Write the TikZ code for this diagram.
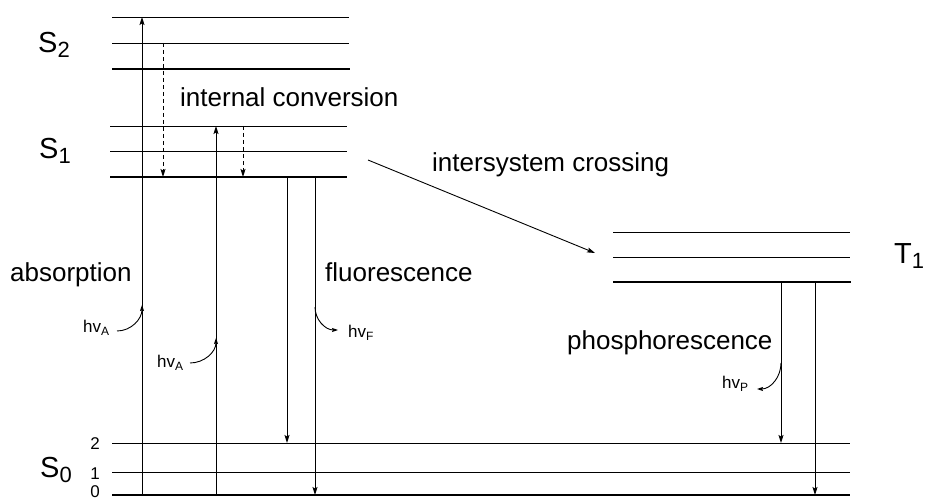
\documentclass[tikz,border=0pt]{standalone}
\usepackage{fontspec}
\setmainfont{Liberation Sans}
\usetikzlibrary{arrows.meta}
\begin{document}
\begin{tikzpicture}[x=1pt,y=-1pt,
  lvl/.style={line width=0.9pt},
  lvlthick/.style={line width=2.8pt},
  tr/.style={line width=0.9pt,-{Stealth[length=8pt,width=5pt,inset=1.5pt]}},
  nr/.style={tr,dash pattern=on 4pt off 3pt},
  hvarrow/.style={line width=0.9pt,-{Stealth[length=6pt,width=4pt,inset=1pt]}},
  lab/.style={font=\fontsize{26}{30}\selectfont, inner sep=0, anchor=base west},
  statelab/.style={font=\fontsize{29}{30}\selectfont, inner sep=0, anchor=base west},
  hvlab/.style={font=\fontsize{17}{20}\selectfont, inner sep=0, anchor=base west},
  num/.style={font=\fontsize{17}{20}\selectfont, inner sep=0}]
\useasboundingbox (0,0) rectangle (925,502);
\newcommand{\stsub}[1]{\raisebox{-5pt}{\fontsize{22}{22}\selectfont #1}}
\newcommand{\hvsub}[1]{\raisebox{-3.5pt}{\fontsize{12}{14}\selectfont #1}}

% energy levels
% S2
\draw[lvl] (112,17) -- (349,17);
\draw[lvl] (112,43) -- (349,43);
\draw[lvlthick] (112,69) -- (350,69);
% S1
\draw[lvl] (110,126) -- (347,126);
\draw[lvl] (110,151) -- (347,151);
\draw[lvlthick] (110,177) -- (347,177);
% T1
\draw[lvl] (613,232) -- (850,232);
\draw[lvl] (613,257) -- (850,257);
\draw[lvlthick] (613,282) -- (851,282);
% S0
\draw[lvl] (112,443) -- (850,443);
\draw[lvl] (112,472) -- (850,472);
\draw[lvlthick] (112,495) -- (850,495);

% state labels
\node[statelab] (S2) at (38,53) {S\stsub{2}};
\node[statelab] (S1) at (39,159) {S\stsub{1}};
\node[statelab] (S0) at (40,477) {S\stsub{0}};
\node[statelab] (T1) at (894,264) {T\stsub{1}};
\node[num] (n2) at (95,444) {2};
\node[num] (n1) at (95,474) {1};
\node[num] (n0) at (95,492) {0};

% process labels
\node[lab] (ic) at (180,107) {internal conversion};
\node[lab] (isc) at (432,172) {intersystem crossing};
\node[lab] (abs) at (10,282) {absorption};
\node[lab] (fl) at (325,282) {fluorescence};
\node[lab] (ph) at (567,349) {phosphorescence};

% coordinates for transitions
\coordinate (a1s) at (142,495); \coordinate (a1e) at (142,17);
\coordinate (a2s) at (216,495); \coordinate (a2e) at (216,126);
\coordinate (d1s) at (163,43);  \coordinate (d1e) at (163,177);
\coordinate (d2s) at (243,126); \coordinate (d2e) at (243,177);
\coordinate (f1s) at (287,177); \coordinate (f1e) at (287,443);
\coordinate (f2s) at (315,177); \coordinate (f2e) at (315,495);
\coordinate (p1s) at (781,282); \coordinate (p1e) at (781,443);
\coordinate (p2s) at (815,282); \coordinate (p2e) at (815,495);
\coordinate (iscs) at (368,160); \coordinate (isce) at (595,253);

\draw[tr] (a1s) -- (a1e);
\draw[tr] (a2s) -- (a2e);
\draw[nr] (d1s) -- (d1e);
\draw[nr] (d2s) -- (d2e);
\draw[tr] (f1s) -- (f1e);
\draw[tr] (f2s) -- (f2e);
\draw[tr] (p1s) -- (p1e);
\draw[tr] (p2s) -- (p2e);
\draw[tr] (iscs) -- (isce);

% photon labels
\node[hvlab] (hA1) at (83,332) {hv\hvsub{A}};
\node[hvlab] (hA2) at (157,367) {hv\hvsub{A}};
\node[hvlab] (hF) at (348,337) {hv\hvsub{F}};
\node[hvlab] (hP) at (722,388) {hv\hvsub{P}};

\coordinate (cA1e) at (142,305);
\coordinate (cA2e) at (216,338);
\coordinate (cFs) at (315,307);
\coordinate (cPs) at (781,363);
\draw[hvarrow] (117,331) to[out=0,in=-90] (cA1e);
\draw[hvarrow] (190,363) to[out=0,in=-90] (cA2e);
\draw[hvarrow] (cFs) to[out=-90,in=180] (338,330);
\draw[hvarrow] (cPs) to[out=-90,in=0] (757,389);
\end{tikzpicture}
\end{document}
